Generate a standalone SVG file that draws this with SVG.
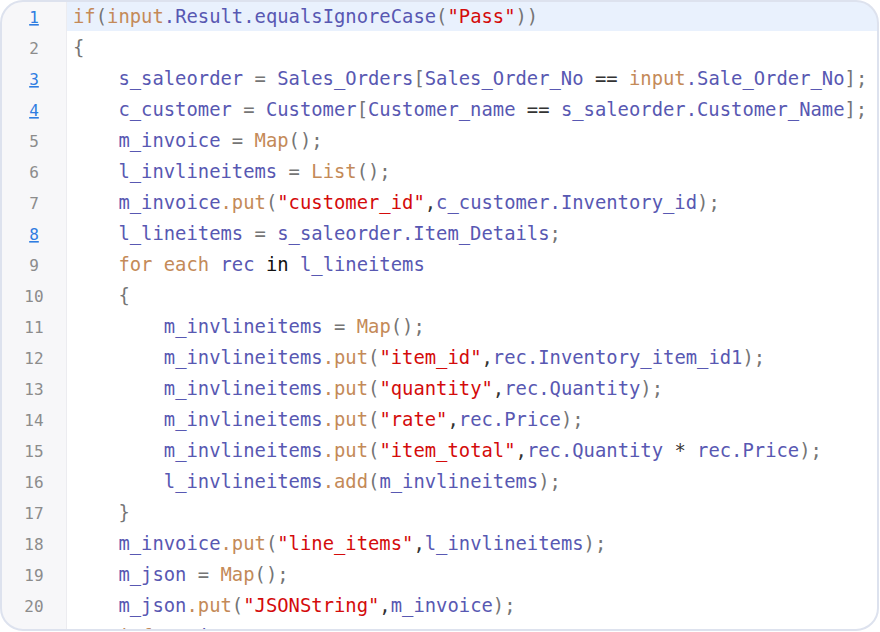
<svg xmlns="http://www.w3.org/2000/svg" width="880" height="632" viewBox="0 0 880 632">
<defs>
<clipPath id="frame"><rect x="1" y="1" width="877" height="629" rx="22" ry="22"/></clipPath>
<clipPath id="vis"><rect x="0" y="0" width="880" height="629"/></clipPath>
<style>
.code{font-family:"DejaVu Sans Mono","Liberation Mono",monospace;font-size:18.85px;}
.num{font-family:"DejaVu Sans Mono","Liberation Mono",monospace;font-size:16px;fill:#8c8c8c;text-anchor:middle;}
.lnk{fill:#2f7de1;text-decoration:underline;}
.v{fill:#5858b2;}
.k{fill:#c48a58;}
.s{fill:#d40b0b;}
.p{fill:#757575;}
.o{fill:#333333;}
.b{fill:#111111;}
</style>
</defs>
<rect x="0" y="0" width="880" height="632" fill="#ffffff"/>
<g id="editor" clip-path="url(#frame)">
<rect x="0" y="0" width="880" height="632" fill="#ffffff"/>
<rect x="0" y="0" width="66" height="632" fill="#f7f7f9"/>
<line x1="66.5" y1="0" x2="66.5" y2="632" stroke="#ececf0" stroke-width="1"/>
<rect x="67" y="0" width="813" height="31" fill="#e9f1fd"/>
</g>
<g id="gutter" clip-path="url(#vis)">
<text class="num lnk" x="34" y="23">1</text>
<text class="num" x="34" y="54">2</text>
<text class="num lnk" x="34" y="85">3</text>
<text class="num lnk" x="34" y="116">4</text>
<text class="num" x="34" y="147">5</text>
<text class="num" x="34" y="178">6</text>
<text class="num" x="34" y="209">7</text>
<text class="num lnk" x="34" y="240">8</text>
<text class="num" x="34" y="271">9</text>
<text class="num" x="34" y="302">10</text>
<text class="num" x="34" y="333">11</text>
<text class="num" x="34" y="364">12</text>
<text class="num" x="34" y="395">13</text>
<text class="num" x="34" y="426">14</text>
<text class="num" x="34" y="457">15</text>
<text class="num" x="34" y="488">16</text>
<text class="num" x="34" y="519">17</text>
<text class="num" x="34" y="550">18</text>
<text class="num" x="34" y="581">19</text>
<text class="num" x="34" y="612">20</text>
<text class="num lnk" x="34" y="643">21</text>
</g>
<g id="code" class="code" xml:space="preserve" clip-path="url(#vis)">
<text x="73" y="23"><tspan class="k">if</tspan><tspan class="p">(</tspan><tspan class="k">input</tspan><tspan class="v">.Result.equalsIgnoreCase</tspan><tspan class="p">(</tspan><tspan class="s">"Pass"</tspan><tspan class="p">))</tspan></text>
<text x="73" y="54"><tspan class="p">{</tspan></text>
<text x="118.4" y="85"><tspan class="v">s_saleorder</tspan><tspan class="p"> = </tspan><tspan class="v">Sales_Orders</tspan><tspan class="p">[</tspan><tspan class="v">Sales_Order_No</tspan><tspan class="o"> == </tspan><tspan class="k">input</tspan><tspan class="v">.Sale_Order_No</tspan><tspan class="p">];</tspan></text>
<text x="118.4" y="116"><tspan class="v">c_customer</tspan><tspan class="p"> = </tspan><tspan class="v">Customer</tspan><tspan class="p">[</tspan><tspan class="v">Customer_name</tspan><tspan class="o"> == </tspan><tspan class="v">s_saleorder.Customer_Name</tspan><tspan class="p">];</tspan></text>
<text x="118.4" y="147"><tspan class="v">m_invoice</tspan><tspan class="p"> = </tspan><tspan class="k">Map</tspan><tspan class="p">();</tspan></text>
<text x="118.4" y="178"><tspan class="v">l_invlineitems</tspan><tspan class="p"> = </tspan><tspan class="k">List</tspan><tspan class="p">();</tspan></text>
<text x="118.4" y="209"><tspan class="v">m_invoice</tspan><tspan class="k">.put</tspan><tspan class="p">(</tspan><tspan class="s">"customer_id"</tspan><tspan class="o">,</tspan><tspan class="v">c_customer.Inventory_id</tspan><tspan class="p">);</tspan></text>
<text x="118.4" y="240"><tspan class="v">l_lineitems</tspan><tspan class="p"> = </tspan><tspan class="v">s_saleorder.Item_Details</tspan><tspan class="p">;</tspan></text>
<text x="118.4" y="271"><tspan class="k">for each</tspan><tspan class="p">  </tspan><tspan class="v">rec</tspan><tspan class="b"> in </tspan><tspan class="v">l_lineitems</tspan></text>
<text x="118.4" y="302"><tspan class="p">{</tspan></text>
<text x="163.8" y="333"><tspan class="v">m_invlineitems</tspan><tspan class="p"> = </tspan><tspan class="k">Map</tspan><tspan class="p">();</tspan></text>
<text x="163.8" y="364"><tspan class="v">m_invlineitems</tspan><tspan class="k">.put</tspan><tspan class="p">(</tspan><tspan class="s">"item_id"</tspan><tspan class="o">,</tspan><tspan class="v">rec.Inventory_item_id1</tspan><tspan class="p">);</tspan></text>
<text x="163.8" y="395"><tspan class="v">m_invlineitems</tspan><tspan class="k">.put</tspan><tspan class="p">(</tspan><tspan class="s">"quantity"</tspan><tspan class="o">,</tspan><tspan class="v">rec.Quantity</tspan><tspan class="p">);</tspan></text>
<text x="163.8" y="426"><tspan class="v">m_invlineitems</tspan><tspan class="k">.put</tspan><tspan class="p">(</tspan><tspan class="s">"rate"</tspan><tspan class="o">,</tspan><tspan class="v">rec.Price</tspan><tspan class="p">);</tspan></text>
<text x="163.8" y="457"><tspan class="v">m_invlineitems</tspan><tspan class="k">.put</tspan><tspan class="p">(</tspan><tspan class="s">"item_total"</tspan><tspan class="o">,</tspan><tspan class="v">rec.Quantity</tspan><tspan class="o"> * </tspan><tspan class="v">rec.Price</tspan><tspan class="p">);</tspan></text>
<text x="163.8" y="488"><tspan class="v">l_invlineitems</tspan><tspan class="k">.add</tspan><tspan class="p">(</tspan><tspan class="v">m_invlineitems</tspan><tspan class="p">);</tspan></text>
<text x="118.4" y="519"><tspan class="p">}</tspan></text>
<text x="118.4" y="550"><tspan class="v">m_invoice</tspan><tspan class="k">.put</tspan><tspan class="p">(</tspan><tspan class="s">"line_items"</tspan><tspan class="o">,</tspan><tspan class="v">l_invlineitems</tspan><tspan class="p">);</tspan></text>
<text x="118.4" y="581"><tspan class="v">m_json</tspan><tspan class="p"> = </tspan><tspan class="k">Map</tspan><tspan class="p">();</tspan></text>
<text x="118.4" y="612"><tspan class="v">m_json</tspan><tspan class="k">.put</tspan><tspan class="p">(</tspan><tspan class="s">"JSONString"</tspan><tspan class="o">,</tspan><tspan class="v">m_invoice</tspan><tspan class="p">);</tspan></text>
<text x="118.4" y="643"><tspan class="k">info</tspan><tspan class="v"> m_json</tspan><tspan class="p">;</tspan></text>
</g>
<rect id="border" x="1" y="1" width="877" height="629" rx="22" ry="22" fill="none" stroke="#dde2ee" stroke-width="2"/>
</svg>
